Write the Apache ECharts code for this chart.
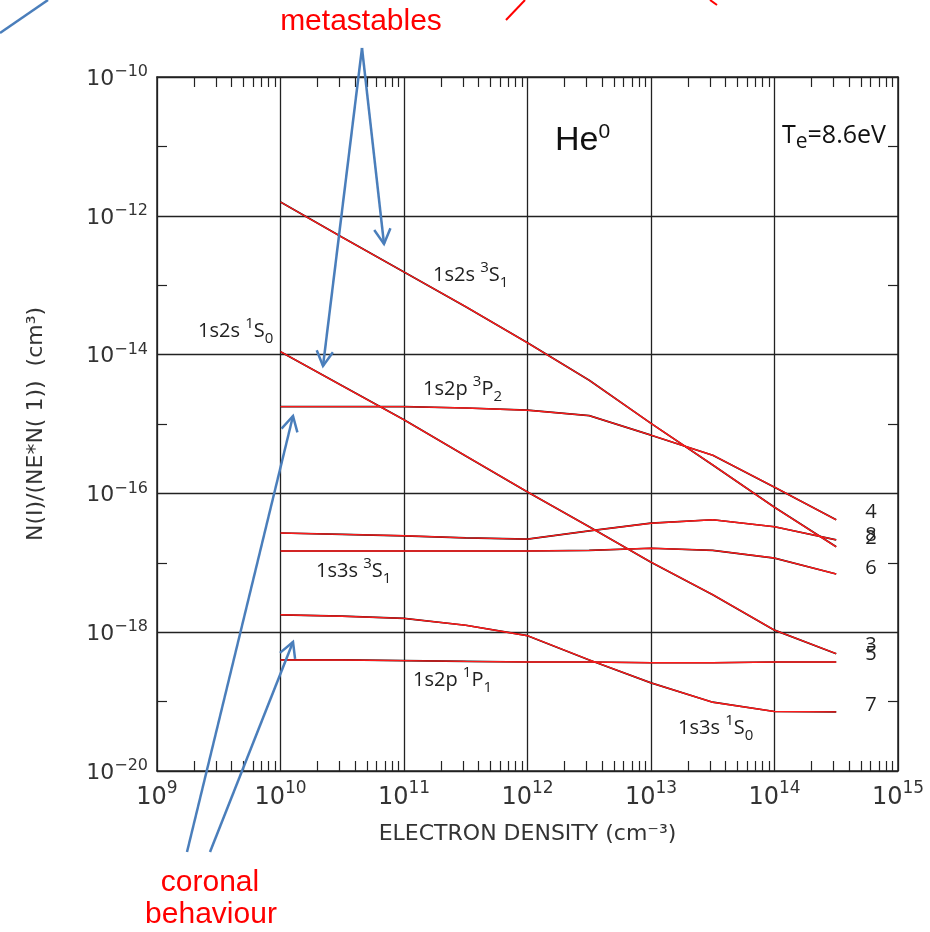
<!DOCTYPE html>
<html><head><meta charset="utf-8">
<script src="https://cdn.jsdelivr.net/npm/echarts@6/dist/echarts.min.js"></script>
<style>html,body{margin:0;padding:0;background:#fff}#c{width:930px;height:932px}</style>
</head><body><div id="c"></div>
<script>
// ---------------- data ----------------
const densities = [1e10, 3.16e10, 1e11, 3.16e11, 1e12, 3.16e12, 1e13, 3.16e13, 1e14, 3.16e14];
// populations N(I)/(NE*N(1)) (cm^3) per level
const level2 = [1.58e-12, 4.9e-13, 1.55e-13, 4.9e-14, 1.48e-14, 4.27e-15, 1.02e-15, 2.57e-16, 6.3e-17, 1.7e-17];   // 1s2s 3S1
const level3 = [1.1e-14, 3.55e-15, 1.15e-15, 3.47e-16, 1.05e-16, 3.3e-17, 1.02e-17, 3.47e-18, 1.07e-18, 4.9e-19]; // 1s2s 1S0
const level4 = [1.78e-15, 1.78e-15, 1.78e-15, 1.7e-15, 1.58e-15, 1.32e-15, 6.9e-16, 3.55e-16, 1.23e-16, 4.17e-17]; // 1s2p 3P2
const level5 = [3.98e-19, 3.98e-19, 3.89e-19, 3.8e-19, 3.72e-19, 3.72e-19, 3.63e-19, 3.63e-19, 3.72e-19, 3.72e-19]; // 1s2p 1P1
const level6 = [1.48e-17, 1.48e-17, 1.48e-17, 1.48e-17, 1.48e-17, 1.51e-17, 1.62e-17, 1.51e-17, 1.17e-17, 6.9e-18]; // 1s3s 3S1
const level7 = [1.78e-18, 1.7e-18, 1.58e-18, 1.26e-18, 8.9e-19, 3.98e-19, 1.86e-19, 9.8e-20, 7.2e-20, 7.1e-20];    // 1s3s 1S0
const level8 = [2.69e-17, 2.57e-17, 2.45e-17, 2.29e-17, 2.19e-17, 2.88e-17, 3.72e-17, 4.17e-17, 3.31e-17, 2.14e-17]; // level 8
const levelIds = ['2', '3', '4', '5', '6', '7', '8'];
const levelLabelOffsets = [-9, -8, -7, -8, -6, -7, -5];

const xExponents = [9, 10, 11, 12, 13, 14, 15];
const yExponents = [-20, -18, -16, -14, -12, -10];

// ---------------- build ----------------
const levels = [level2, level3, level4, level5, level6, level7, level8];
const xMinorTicks = [];
for (let e = xExponents[0]; e < xExponents[xExponents.length - 1]; e++) {
  for (let k = 2; k <= 9; k++) xMinorTicks.push(Math.log10(k) + e);
}
const xMin = xExponents[0], xMax = xExponents[xExponents.length - 1];
const yMin = yExponents[0], yMax = yExponents[yExponents.length - 1];

const axisColor = '#222';
const series = [];
levels.forEach((vals, i) => {
  const d = densities.map((x, j) => [Math.log10(x), Math.log10(vals[j])]);
  series.push({
    type: 'line', data: d, showSymbol: false, silent: true, z: 2,
    lineStyle: { color: '#111', width: 1.7 }
  });
  series.push({
    type: 'line', data: d, showSymbol: false, silent: true, z: 3,
    lineStyle: { color: '#ff1a1a', width: 1.4 },
    endLabel: {
      show: true, formatter: levelIds[i], distance: 29, offset: [0, levelLabelOffsets[i]],
      color: '#222', fontSize: 20, fontFamily: 'Open Sans'
    }
  });
});

const supLabelRichX = {
  b: { fontSize: 24, fontFamily: 'DejaVu Sans', color: '#333', lineHeight: 30, verticalAlign: 'bottom' },
  s: { fontSize: 17, fontFamily: 'DejaVu Sans', color: '#333', lineHeight: 17, verticalAlign: 'top' }
};
const supLabelRichY = {
  b: { fontSize: 22, fontFamily: 'DejaVu Sans', color: '#333', lineHeight: 26, verticalAlign: 'bottom' },
  s: { fontSize: 16, fontFamily: 'DejaVu Sans', color: '#333', lineHeight: 15, verticalAlign: 'top' }
};
const fmtExp = v => '{b|10}{s|' + (v < 0 ? '\u2212' + Math.abs(v) : v) + '}';

const lineCommon = { show: true, onZero: false, lineStyle: { color: axisColor, width: 1.5 } };

const labelRich = {
  n: { fontSize: 20, fontFamily: 'Open Sans', fill: '#222', lineHeight: 30, verticalAlign: 'middle' },
  sup: { fontSize: 15, fontFamily: 'Open Sans', fill: '#222', lineHeight: 14, verticalAlign: 'top' },
  sub: { fontSize: 15, fontFamily: 'Open Sans', fill: '#222', lineHeight: 14, verticalAlign: 'bottom' }
};
function lvlText(x, y, cfg, sup, L, sub) {
  return { type: 'text', x: x, y: y, z: 50,
    style: { text: '{n|' + cfg + ' }{sup|' + sup + '}{n|' + L + '}{sub|' + sub + '}', rich: labelRich, verticalAlign: 'middle' } };
}

const BLUE = '#4a7ebb';
function arrow(x0, y0, x1, y1) {
  const a = Math.atan2(y1 - y0, x1 - x0);
  const L = 17, h = 0.5;
  const w1 = [x1 - L * Math.cos(a - h), y1 - L * Math.sin(a - h)];
  const w2 = [x1 - L * Math.cos(a + h), y1 - L * Math.sin(a + h)];
  return [
    { type: 'polyline', z: 60, shape: { points: [[x0, y0], [x1, y1]] }, style: { stroke: BLUE, lineWidth: 2.5, fill: null } },
    { type: 'polyline', z: 60, shape: { points: [w1, [x1, y1], w2] }, style: { stroke: BLUE, lineWidth: 2.5, fill: null } }
  ];
}

const graphics = [].concat(
  arrow(362, 48, 384, 244),
  arrow(362, 48, 323, 366),
  arrow(187, 852, 293, 416),
  arrow(210, 852, 293, 642),
  [
    { type: 'polyline', shape: { points: [[0, 33], [48, 0]] }, style: { stroke: BLUE, lineWidth: 2.5, fill: null } },
    { type: 'polyline', shape: { points: [[506, 20], [525, 0]] }, style: { stroke: '#ff0000', lineWidth: 2, fill: null } },
    { type: 'polyline', shape: { points: [[710, 0], [717, 5]] }, style: { stroke: '#ff0000', lineWidth: 2, fill: null } },
    { type: 'text', x: 361, y: 22, style: { text: 'metastables', fill: '#ff0000', font: '30px "Liberation Sans"', align: 'center', verticalAlign: 'middle' } },
    { type: 'text', x: 210, y: 883, style: { text: 'coronal', fill: '#ff0000', font: '30px "Liberation Sans"', align: 'center', verticalAlign: 'middle' } },
    { type: 'text', x: 211, y: 915, style: { text: 'behaviour', fill: '#ff0000', font: '30px "Liberation Sans"', align: 'center', verticalAlign: 'middle' } },
    { type: 'text', x: 555, y: 140, z: 50, style: { text: '{a|He}{b|0}', verticalAlign: 'middle',
        rich: { a: { fontSize: 34, fontFamily: 'Liberation Sans', fill: '#111', lineHeight: 36, verticalAlign: 'bottom' },
                b: { fontSize: 21, fontFamily: 'Liberation Sans', fill: '#111', lineHeight: 22, verticalAlign: 'top' } } } },
    { type: 'text', x: 782, y: 138, z: 50, style: { text: '{a|T}{b|e}{a|=8.6eV}', verticalAlign: 'middle',
        rich: { a: { fontSize: 25, fontFamily: 'Open Sans', fill: '#111', lineHeight: 30, verticalAlign: 'top' },
                b: { fontSize: 21, fontFamily: 'Open Sans', fill: '#111', lineHeight: 20, verticalAlign: 'bottom' } } } },
    lvlText(433, 275, '1s2s', '3', 'S', '1'),
    lvlText(198, 331, '1s2s', '1', 'S', '0'),
    lvlText(423, 389, '1s2p', '3', 'P', '2'),
    lvlText(316, 571, '1s3s', '3', 'S', '1'),
    lvlText(413, 680, '1s2p', '1', 'P', '1'),
    lvlText(678, 728, '1s3s', '1', 'S', '0')
  ]
);

const option = {
  animation: false,
  backgroundColor: '#fff',
  grid: { left: 157, right: 32, top: 77, bottom: 161, outerBoundsMode: 'none' },
  xAxis: [
    { type: 'value', min: xMin, max: xMax, interval: 1, position: 'bottom',
      axisLine: lineCommon,
      axisTick: { show: true, inside: true, length: 10, customValues: xMinorTicks, lineStyle: { color: axisColor, width: 1.2 } },
      splitLine: { show: false },
      axisLabel: { formatter: fmtExp, rich: supLabelRichX, margin: 9 },
      name: 'ELECTRON DENSITY (cm\u207B\u00B3)', nameLocation: 'middle', nameGap: 52,
      nameTextStyle: { fontSize: 22, fontFamily: 'DejaVu Sans', color: '#333', verticalAlign: 'top' } },
    { type: 'value', min: xMin, max: xMax, interval: 1, position: 'top',
      axisLine: lineCommon,
      axisTick: { show: true, inside: true, length: 10, customValues: xMinorTicks, lineStyle: { color: axisColor, width: 1.2 } },
      splitLine: { show: false }, axisLabel: { show: false } },
    { type: 'value', min: xMin, max: xMax, interval: 1, position: 'bottom',
      axisLine: { show: false }, axisTick: { show: false }, axisLabel: { show: false },
      splitLine: { show: true, lineStyle: { color: axisColor, width: 1.3 } } }
  ],
  yAxis: [
    { type: 'value', min: yMin, max: yMax, interval: 2, position: 'left',
      axisLine: lineCommon,
      axisTick: { show: true, inside: true, length: 10, lineStyle: { color: axisColor } },
      minorTick: { show: true, splitNumber: 2, length: 10, lineStyle: { color: axisColor, width: 1.2 } },
      splitLine: { show: true, lineStyle: { color: axisColor, width: 1.3 } },
      axisLabel: { formatter: fmtExp, rich: supLabelRichY, margin: 9 },
      name: 'N(I)/(NE*N( 1))  (cm\u00B3)', nameLocation: 'middle', nameGap: 110, nameRotate: 90,
      nameTextStyle: { fontSize: 22, fontFamily: 'DejaVu Sans', color: '#333' } },
    { type: 'value', min: yMin, max: yMax, interval: 2, position: 'right',
      axisLine: lineCommon,
      axisTick: { show: true, inside: true, length: 10, lineStyle: { color: axisColor } },
      minorTick: { show: true, splitNumber: 2, length: 10, lineStyle: { color: axisColor, width: 1.2 } },
      splitLine: { show: false }, axisLabel: { show: false } }
  ],
  series: series,
  graphic: graphics
};

const chart = echarts.init(document.getElementById('c'), null, { renderer: 'canvas' });
chart.setOption(option);
</script>
</body></html>
